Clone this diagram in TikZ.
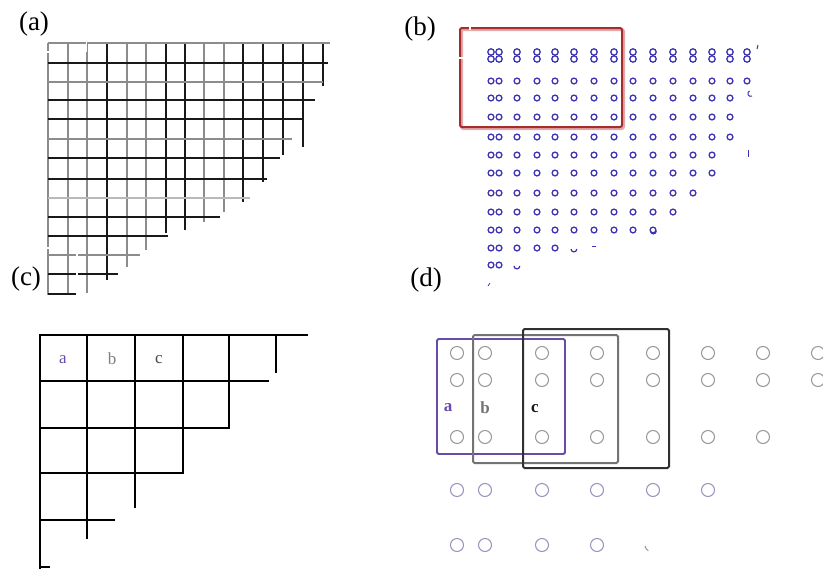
\documentclass[tikz,border=0pt]{standalone}
\usepackage{fontspec}
\setmainfont{Liberation Serif}
\definecolor{gA}{RGB}{140,140,140}
\definecolor{gL}{RGB}{185,185,185}
\definecolor{kA}{RGB}{25,25,25}
\definecolor{bluec}{RGB}{60,50,180}
\definecolor{redr}{RGB}{165,45,45}
\definecolor{redsh}{RGB}{225,170,170}
\definecolor{purp}{RGB}{105,75,170}
\definecolor{greyr}{RGB}{115,115,115}
\definecolor{dcirc}{RGB}{150,150,150}
\definecolor{dcircl}{RGB}{150,145,190}
\tikzset{
  plabel/.style={font=\fontsize{27}{30}\selectfont, inner sep=0pt},
  clabel/.style={font=\fontsize{17}{20}\selectfont, inner sep=0pt},
  dlabel/.style={font=\fontsize{17}{20}\selectfont\bfseries, inner sep=0pt},
  gridln/.style={line width=1.4pt},
  cgrid/.style={line width=2.2pt, black},
  bcirc/.style={draw=bluec, line width=1.3pt},
  dcir/.style={draw=dcirc, line width=1pt},
  dcirL/.style={draw=dcircl, line width=1pt},
}
\begin{document}
\begin{tikzpicture}[x=1pt,y=-1pt]
\useasboundingbox (0,0) rectangle (823,571);
\clip (0,0) rectangle (823,571);
% ---------------- panel (a)
\foreach \x/\e/\c in {48/295/gA,68/295/gA,87/293/gA,107/280/kA,127/267/gA,146/250/gA,166/233/kA,185/230/kA,204/222/gA,224/212/gA,243/202/kA,263/182/kA,283/155/kA,303/147/kA,323/86/kA}
  \draw[gridln,draw=\c] (\x,43) -- (\x,\e);
\foreach \y/\e/\c in {43/330/gA,63/328/kA,82/323/gA,100/315/kA,119/303/kA,139/292/gA,158/280/kA,179/267/kA,198/250/gL,217/220/kA,236/168/kA,255/140/gA,274/118/kA,294/77/kA}
  \draw[gridln,draw=\c] (48,\y) -- (\e,\y);
\draw[white,line width=1.5pt,dash pattern=on 6pt off 5pt] (47,52) -- (88,52);
\draw[white,line width=1.5pt] (86.5,42) -- (86.5,52);
\draw[white,line width=1.5pt,dash pattern=on 6pt off 5pt] (47,248) -- (71,248);
\draw[white,line width=2pt] (77,252) -- (77,298);
\node[plabel] (la) at (34,24) {(a)};
\node[plabel] (lc) at (26,279) {(c)};
% ---------------- panel (b)
\foreach \r/\y/\n in {2/81/14,3/98/13,4/117/13,5/137/13,6/155/12,7/173/12,8/193/11,9/212/10,10/230/9,11/248/4,12/265/1}{
  \foreach \x [count=\i from 0] in {491,499,517,537,555,574,594,614,633,653,673,693,712,730,747}{
    \ifnum\i>\n\else
      \draw[bcirc] (\x,\y) circle[radius=2.9];
    \fi
  }
}
\foreach \x in {491,499,517,537,555,574,594,614,633,653,673,693,712,730,747}{
  \draw[bcirc] (\x,52) circle[radius=3.2];
  \draw[bcirc] (\x,59) circle[radius=3.2];
}
% partial marks
\draw[bluec,line width=1pt] (757,49) -- (758,45);
\draw[bluec,line width=1pt] (752,96) arc[start angle=60,end angle=250,radius=2.8];
\draw[bluec,line width=1pt] (748,150) -- (748,157);
\draw[bluec,line width=1.2pt] (650.5,231) arc[start angle=180,end angle=0,radius=2.9];
\draw[bluec,line width=1.2pt] (571,249) arc[start angle=180,end angle=0,radius=2.9];
\draw[bluec,line width=1pt] (592,246) -- (596,246);
\draw[bluec,line width=1.2pt] (514,266) arc[start angle=180,end angle=0,radius=2.9];
\draw[bluec,line width=0.8pt] (488,286) -- (490,283);
\draw[redsh,line width=3pt,rounded corners=2pt] (461.5,29.5) rectangle (623.5,128.5);
\draw[redr,line width=2pt,rounded corners=2pt] (460,28) rectangle (622,127);
\draw[white,line width=1.5pt] (458,58) -- (465,58);
\draw[white,line width=1.5pt] (470,26) -- (470,30);
\node[plabel] (lb) at (420,29) {(b)};
% ---------------- panel (c)
\draw[cgrid] (40,335) -- (308,335);
\draw[cgrid] (40,381) -- (269,381);
\draw[line width=1.4pt,black] (40,428) -- (229,428);
\draw[cgrid] (40,473) -- (183,473);
\draw[cgrid] (40,520) -- (115,520);
\draw[cgrid] (40,567) -- (50,567);
\draw[cgrid] (40,334) -- (40,569);
\draw[cgrid] (87,335) -- (87,539);
\draw[cgrid] (135,335) -- (135,508);
\draw[cgrid] (183,335) -- (183,474);
\draw[cgrid] (229,335) -- (229,429);
\draw[cgrid] (276,335) -- (276,373);
\node[clabel,text=purp] (ca) at (63,360) {a};
\node[clabel,text=gray] (cb) at (112,359) {b};
\node[clabel,text=kA!80] (cc) at (159,360) {c};
\node[plabel] (ld) at (426,280) {(d)};
% ---------------- panel (d)
\foreach \y/\n in {353/7,380/7,437/6}{
  \foreach \x [count=\i from 0] in {457,485,542,597,653,708,763,818}{
    \ifnum\i>\n\else \draw[dcir] (\x,\y) circle[radius=6.5]; \fi
  }
}
\foreach \y/\n in {490/5,545/3}{
  \foreach \x [count=\i from 0] in {457,485,542,597,653,708,763,818}{
    \ifnum\i>\n\else \draw[dcirL] (\x,\y) circle[radius=6.5]; \fi
  }
}
\draw[dcir] (645,546) arc[start angle=170,end angle=120,radius=7];
\draw[purp,line width=1.8pt,rounded corners=1.5pt] (437,339) rectangle (565,454);
\draw[greyr,line width=2pt,rounded corners=1.5pt] (473,335) rectangle (618,463);
\draw[kA!90,line width=2pt,rounded corners=1.5pt] (523,329) rectangle (669,468);
\node[dlabel,text=purp] (da) at (448,408) {a};
\node[dlabel,text=greyr] (db) at (485,408) {b};
\node[dlabel,text=kA] (dc) at (535,409) {c};
\end{tikzpicture}
\end{document}
